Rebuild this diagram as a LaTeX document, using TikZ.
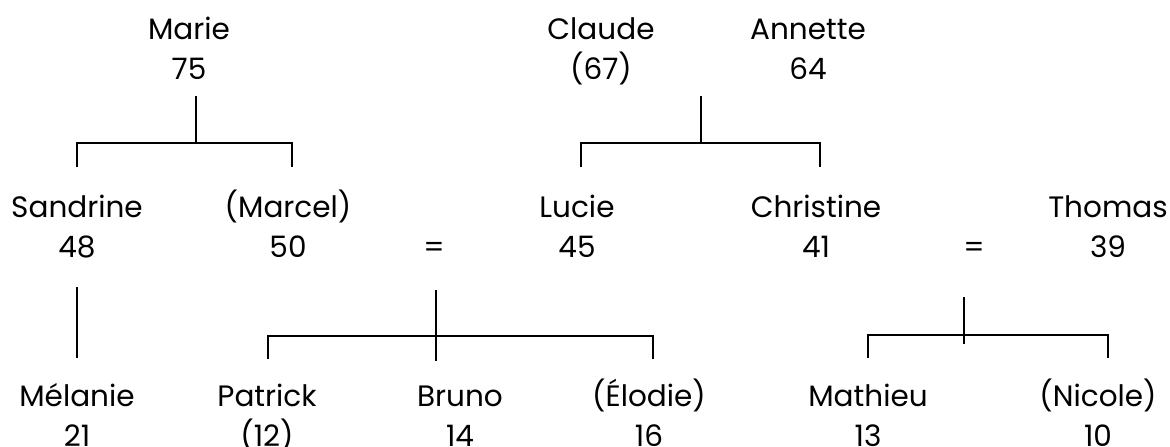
\documentclass[tikz,border=0pt]{standalone}
\usepackage{fontspec}
\setmainfont{Poppins}
\newfontfamily\persfont{Poppins}

\begin{document}
\begin{tikzpicture}[x=1pt, y=-1pt, line width=1.6pt,
        pers/.style={align=center, anchor=base, inner sep=0pt,
            font=\persfont\fontsize{29.5}{40}\selectfont}]
        \useasboundingbox (0,0) rectangle (1170,447);
        % people: name and age (placed on the age baseline)
        \foreach \id/\nm/\age/\x/\y in {marie/Marie/75/189/79, claude/Claude/(67)/601/79, annette/Annette/64/808/79,
                sandrine/Sandrine/48/77/257, marcel/(Marcel)/50/288/257, lucie/Lucie/45/577/257,
                christine/Christine/41/816/257, thomas/Thomas/39/1108/257,
                melanie/Mélanie/21/77/446, patrick/Patrick/(12)/267/446, bruno/Bruno/14/460/446,
                elodie/(Élodie)/16/649/446, mathieu/Mathieu/13/868/446, nicole/(Nicole)/10/1098/446}
            {
                \node[pers] (\id) at (\x,\y) {\nm\\\age};
            }
        \node[pers] (eqA) at (434,257) {=};
        \node[pers] (eqB) at (974,257) {=};
        % Marie -> Sandrine, Marcel
        \coordinate (jA) at (196,143);
        \draw (jA) ++(0,-47) -- (jA);
        \draw (sandrine |- 0,167) |- (jA) -| (292,167);
        % Claude, Annette -> Lucie, Christine
        \coordinate (jB) at (701,143);
        \draw (jB) ++(0,-47) -- (jB);
        \draw (581,167) |- (jB) -| (820,167);
        % Sandrine -> Melanie
        \draw (sandrine |- 0,287) -- (melanie |- 0,358);
        % Marcel = Lucie -> Patrick, Bruno, Elodie
        \coordinate (jC) at (436,336);
        \draw (jC) ++(0,-46) -- ++(0,71);
        \draw (268,359) |- (jC) -| (653,359);
        % Christine = Thomas -> Mathieu, Nicole
        \coordinate (jD) at (964,335);
        \draw (jD) ++(0,-38) -- ++(0,47);
        \draw (mathieu |- 0,358) |- (jD) -| (1108,358);
    \end{tikzpicture}
\end{document}
